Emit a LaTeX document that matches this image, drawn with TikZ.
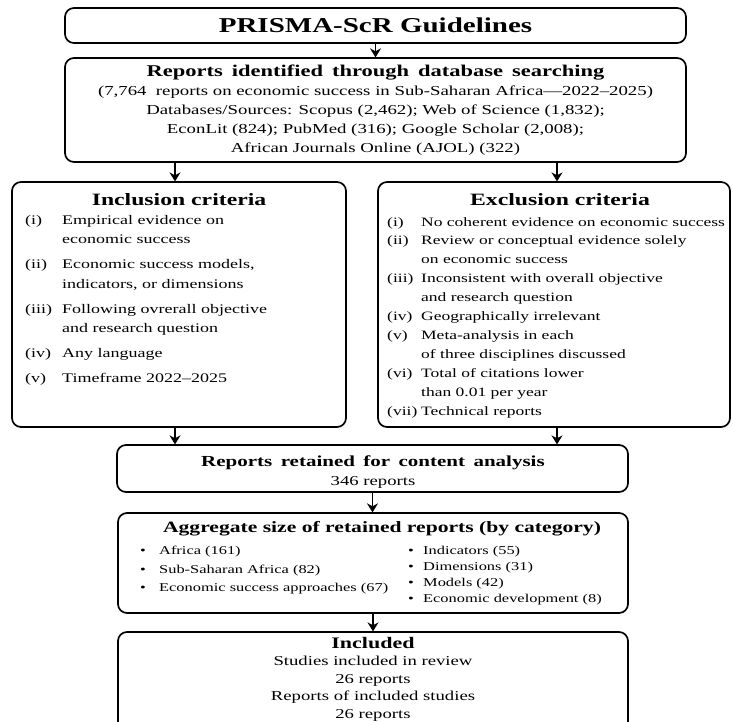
\documentclass[tikz,border=0pt]{standalone}
\usepackage{fontspec}
\setmainfont{Liberation Serif}
\usetikzlibrary{arrows.meta,positioning,calc}

\begin{document}
\begin{tikzpicture}[
    x=1pt, y=1pt,
    box/.style={rectangle, rounded corners=9pt, draw=black, line width=1.7pt, yscale=0.73, align=center, inner sep=0pt},
    txt/.style={yscale=0.73, inner sep=0pt, align=center},
    arrow/.style={-{Stealth[length=9pt,width=11pt]}, line width=1.8pt}
]
\useasboundingbox[fill=white] (0,0) rectangle (733,-721);
\clip (0,0) rectangle (733,-721);

% Boxes
\node[box, minimum width=621pt, minimum height=48pt, font=\fontsize{29}{34}\selectfont\bfseries] (title) at (375.5,-25.5) {PRISMA-ScR Guidelines};

\node[box, minimum width=621pt, minimum height=142.5pt, font=\fontsize{18.8}{26}\selectfont] (reports) at (375.5,-110) {%
  {\fontsize{22.5}{26}\selectfont\bfseries\spaceskip=0.4em Reports identified through database searching}\\
  (7,764\ \ reports on economic success in Sub-Saharan Africa---2022--2025)\\
  Databases/Sources: Scopus (2,462); Web of Science (1,832);\\
  EconLit (824); PubMed (316); Google Scholar (2,008);\\
  African Journals Online (AJOL) (322)};

\node[box, minimum width=334pt, minimum height=335.6pt] (incl) at (179,-304.5) {};
\node[box, minimum width=352pt, minimum height=335.6pt] (excl) at (554,-304.5) {};
\node[box, minimum width=511pt, minimum height=64.4pt] (retained) at (372.5,-468.5) {};
\node[box, minimum width=510pt, minimum height=137pt] (aggregate) at (373,-563) {};
\node[box, minimum width=510pt, minimum height=148pt] (included) at (373,-686) {};

% Box texts
\node[txt, font=\fontsize{18.7}{27}\selectfont] (retainedtext) at (373,-472) {%
  {\fontsize{21}{27}\selectfont\bfseries\spaceskip=0.4em Reports retained for content analysis}\\
  346 reports};

\node[txt, font=\fontsize{18.7}{24}\selectfont] (includedtext) at (373,-679) {%
  {\fontsize{22}{24}\selectfont\bfseries Included}\\
  Studies included in review\\
  26 reports\\
  Reports of included studies\\
  26 reports};

% Criteria
\node[txt, anchor=base, font=\fontsize{23.7}{28}\selectfont\bfseries] (inclhead) at (179,-205) {Inclusion criteria};
\node[txt, anchor=base west, font=\fontsize{18}{27}\selectfont] (incllist) at (25,-224) {%
  \begin{tabular}[t]{@{}p{37pt}@{}l@{}}
  (i)   & Empirical evidence on\\
        & economic success\\[7pt]
  (ii)  & Economic success models,\\
        & indicators, or dimensions\\[7pt]
  (iii) & Following ovrerall objective\\
        & and research question\\[7pt]
  (iv)  & Any language\\[7pt]
  (v)   & Timeframe 2022--2025
  \end{tabular}};

\node[txt, anchor=base, font=\fontsize{23.7}{28}\selectfont\bfseries] (exclhead) at (560,-205) {Exclusion criteria};
\node[txt, anchor=base west, font=\fontsize{17.5}{26}\selectfont] (excllist) at (387,-226) {%
  \begin{tabular}[t]{@{}p{34pt}@{}l@{}}
  (i)   & No coherent evidence on economic success\\
  (ii)  & Review or conceptual evidence solely\\
        & on economic success\\
  (iii) & Inconsistent with overall objective\\
        & and research question\\
  (iv)  & Geographically irrelevant\\
  (v)   & Meta-analysis in each\\
        & of three disciplines discussed\\
  (vi)  & Total of citations lower\\
        & than 0.01 per year\\
  (vii) & Technical reports
  \end{tabular}};

% Categories
\node[txt, anchor=base, font=\fontsize{21.6}{26}\selectfont\bfseries] (agghead) at (382,-532) {Aggregate size of retained reports (by category)};
\node[txt, anchor=base west, font=\fontsize{16.4}{25.5}\selectfont] (aggleft) at (140,-554.5) {%
  \begin{tabular}[t]{@{}p{19pt}@{}l@{}}
  \textbullet & Africa (161)\\
  \textbullet & Sub-Saharan Africa (82)\\
  \textbullet & Economic success approaches (67)
  \end{tabular}};
\node[txt, anchor=base west, font=\fontsize{16.4}{21.7}\selectfont] (aggright) at (408,-554.5) {%
  \begin{tabular}[t]{@{}p{15pt}@{}l@{}}
  \textbullet & Indicators (55)\\
  \textbullet & Dimensions (31)\\
  \textbullet & Models (42)\\
  \textbullet & Economic development (8)
  \end{tabular}};

% Arrows
\draw[arrow] (title.south) -- (title.south |- reports.north);
\draw[arrow] ([xshift=-4pt]incl.north |- reports.south) -- ([xshift=-4pt]incl.north);
\draw[arrow] ([xshift=3pt]excl.north |- reports.south) -- ([xshift=3pt]excl.north);
\draw[arrow] ([xshift=-4pt]incl.south) -- ([xshift=-4pt]incl.south |- retained.north);
\draw[arrow] ([xshift=3pt]excl.south) -- ([xshift=3pt]excl.south |- retained.north);
\draw[arrow] (retained.south) -- (retained.south |- aggregate.north);
\draw[arrow] (aggregate.south) -- (aggregate.south |- included.north);

\end{tikzpicture}
\end{document}
